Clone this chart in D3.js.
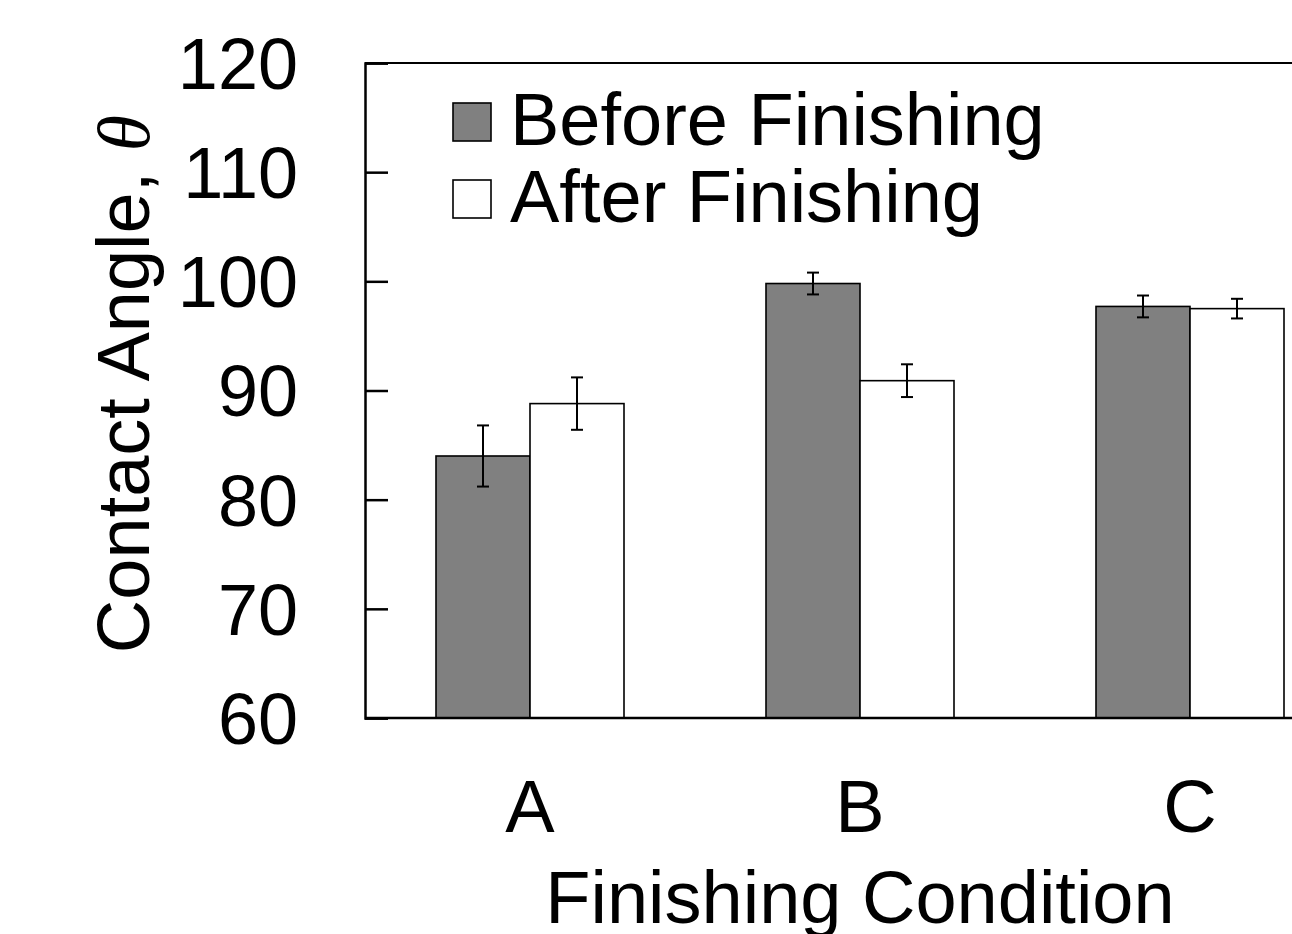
<!DOCTYPE html>
<html>
<head>
<meta charset="utf-8">
<script src="https://cdn.jsdelivr.net/npm/d3@7"></script>
<style>
  body { margin: 0; background: #fff; }
  text { font-family: "Liberation Sans", Arial, sans-serif; fill: #000; }
</style>
</head>
<body>
<div id="chart-area"></div>
<script>
var width = 1292;
var height = 934;

// data
var categories = ["A", "B", "C"];
var series = ["Before Finishing", "After Finishing"];
var beforeVals = [84.0, 99.8, 97.7];
var beforeErr = [2.8, 1.0, 1.0];
var afterVals = [88.8, 90.9, 97.5];
var afterErr = [2.4, 1.5, 0.9];
var yTicks = [60, 70, 80, 90, 100, 110, 120];

var colors = ["#808080", "#ffffff"];

var xLeft = 365, yTop = 63, yBottom = 718;

var svg = d3.select("#chart-area").append("svg")
    .attr("width", width)
    .attr("height", height);

var x = d3.scaleBand().domain(categories).range([xLeft, xLeft + 990]).padding(0);
var inner = d3.scaleBand().domain(series).range([-94, 94]).padding(0);
var y = d3.scaleLinear().domain([60, 120]).range([yBottom, yTop]);

var rows = [];
categories.forEach((c, i) => {
    rows.push({ cat: c, s: series[0], v: beforeVals[i], e: beforeErr[i], col: colors[0] });
    rows.push({ cat: c, s: series[1], v: afterVals[i], e: afterErr[i], col: colors[1] });
});

// bars
svg.selectAll("rect.bar").data(rows).enter().append("rect")
    .attr("class", "bar")
    .attr("x", d => x(d.cat) + x.bandwidth() / 2 + inner(d.s))
    .attr("y", d => y(d.v))
    .attr("width", inner.bandwidth())
    .attr("height", d => yBottom - y(d.v))
    .attr("fill", d => d.col)
    .attr("stroke", "#000")
    .attr("stroke-width", 1.6);

// error bars
var err = svg.selectAll("g.err").data(rows).enter().append("g")
    .attr("class", "err")
    .attr("transform", d => "translate(" + (x(d.cat) + x.bandwidth() / 2 + inner(d.s) + inner.bandwidth() / 2) + ",0)")
    .attr("stroke", "#000")
    .attr("stroke-width", 2);
err.append("line").attr("x1", 0).attr("x2", 0)
    .attr("y1", d => y(d.v + d.e)).attr("y2", d => y(d.v - d.e));
err.append("line").attr("x1", -6).attr("x2", 6)
    .attr("y1", d => y(d.v + d.e)).attr("y2", d => y(d.v + d.e));
err.append("line").attr("x1", -6).attr("x2", 6)
    .attr("y1", d => y(d.v - d.e)).attr("y2", d => y(d.v - d.e));

// frame: top and bottom lines
svg.append("line").attr("x1", xLeft).attr("x2", xLeft + 990).attr("y1", yTop).attr("y2", yTop)
    .attr("stroke", "#000").attr("stroke-width", 2);
svg.append("line").attr("x1", xLeft).attr("x2", xLeft + 990).attr("y1", yBottom).attr("y2", yBottom)
    .attr("stroke", "#000").attr("stroke-width", 2.5);

// y axis, ticks pointing inward
var yAxis = svg.append("g")
    .attr("transform", "translate(" + xLeft + ",0)")
    .call(d3.axisRight(y).tickValues(yTicks).tickSize(23).tickFormat(""));
yAxis.select(".domain").attr("stroke-width", 2.5);
yAxis.selectAll(".tick line").attr("stroke-width", 2.5);

svg.selectAll("text.ylab").data(yTicks).enter().append("text")
    .attr("class", "ylab")
    .attr("x", 298)
    .attr("y", d => y(d))
    .attr("dy", "0.36em")
    .attr("text-anchor", "end")
    .attr("font-size", 72)
    .text(d => d);

// category labels
svg.selectAll("text.xlab").data(categories).enter().append("text")
    .attr("class", "xlab")
    .attr("x", d => x(d) + x.bandwidth() / 2)
    .attr("y", 832)
    .attr("text-anchor", "middle")
    .attr("font-size", 74)
    .text(d => d);

svg.append("text")
    .attr("x", 860).attr("y", 923)
    .attr("text-anchor", "middle")
    .attr("font-size", 74)
    .text("Finishing Condition");

var yt = svg.append("text")
    .attr("transform", "translate(149,384) rotate(-90)")
    .attr("text-anchor", "middle")
    .attr("font-size", 74);
yt.append("tspan").text("Contact Angle, ");
yt.append("tspan").attr("font-style", "italic").attr("font-family", "Liberation Serif, serif").text("θ");

// legend
var legend = svg.selectAll("g.leg").data(series).enter().append("g")
    .attr("class", "leg")
    .attr("transform", (d, i) => "translate(453," + (103 + i * 77) + ")");
legend.append("rect")
    .attr("width", 38).attr("height", 38)
    .attr("fill", (d, i) => colors[i])
    .attr("stroke", "#000").attr("stroke-width", 1.6);
legend.append("text")
    .attr("x", 57).attr("y", 42)
    .attr("font-size", 74)
    .text(d => d);
</script>
</body>
</html>
